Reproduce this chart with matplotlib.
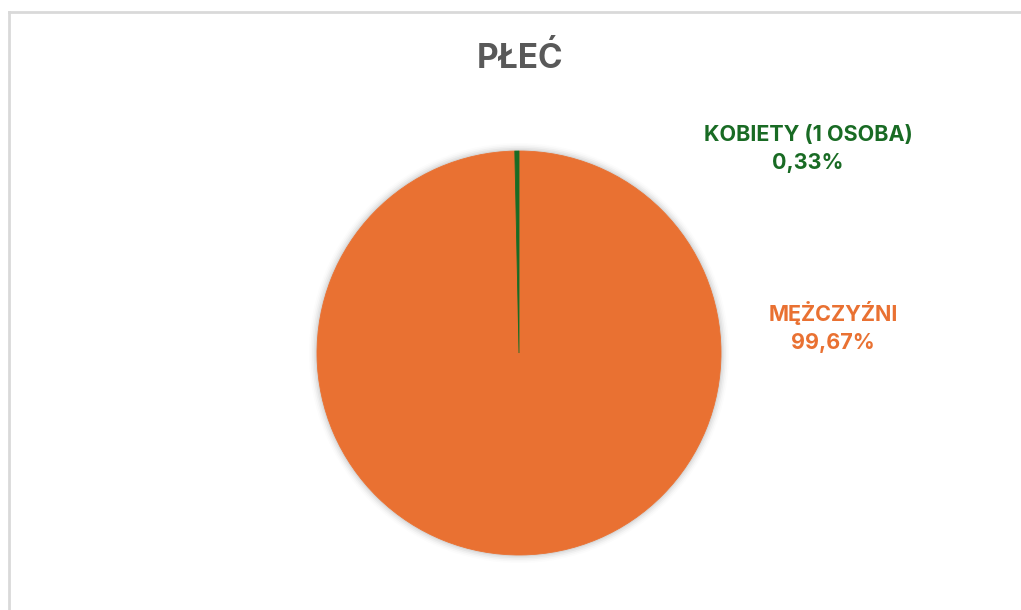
#coding:utf-8
# wykres kołowy - płeć
import matplotlib
matplotlib.use('Agg')
import matplotlib.pyplot as plt
from matplotlib.patches import Circle
from matplotlib.lines import Line2D

labels = ['MĘŻCZYŹNI', 'KOBIETY (1 OSOBA)']
values = [99.67, 0.33]
pct_text = ['99,67%', '0,33%']
colors = ['#E97132', '#196B24']
title = 'PŁEĆ'

plt.rcParams['font.family'] = ['Inter', 'DejaVu Sans']

W, H = 1021, 610
fig = plt.figure(figsize=(W / 100, H / 100), dpi=100)

# ramka obszaru wykresu (tylko góra i lewa strona widoczne)
fig.add_artist(Line2D([9 / W, 9 / W], [0, 1 - 12 / H], color='#D9D9D9', lw=2))
fig.add_artist(Line2D([9 / W, 1], [1 - 12 / H, 1 - 12 / H], color='#D9D9D9', lw=2))

cx, cy, r = 519, 353, 202
ax = fig.add_axes([(cx - r * 1.05) / W, (H - cy - r * 1.05) / H, 2.1 * r / W, 2.1 * r / H])

# delikatny cień
for i, a in enumerate([0.05, 0.04, 0.03, 0.02, 0.01]):
    ax.add_patch(Circle((0, 0), 1 + 0.008 * (i + 1), color='black', alpha=a, lw=0))

ax.pie(values, colors=colors, startangle=90, counterclock=False,
       wedgeprops=dict(linewidth=0.6, edgecolor=None))
for w, c in zip(ax.patches[-2:], colors):
    w.set_edgecolor(c)
ax.set_xlim(-1.05, 1.05)
ax.set_ylim(-1.05, 1.05)
ax.axis('off')

fig.text(520 / W, 1 - 59 / H, title, ha='center', va='center',
         fontsize=24, fontweight='bold', color='#595959')

fig.text(808 / W, 1 - 149 / H, labels[1] + '\n' + pct_text[1], ha='center', va='center',
         fontsize=15.5, fontweight='bold', color=colors[1], linespacing=1.5)
fig.text(833 / W, 1 - 327 / H, labels[0] + '\n' + pct_text[0], ha='center', va='center',
         fontsize=15.5, fontweight='bold', color=colors[0], linespacing=1.5)

fig.savefig('out.png', dpi=100)
